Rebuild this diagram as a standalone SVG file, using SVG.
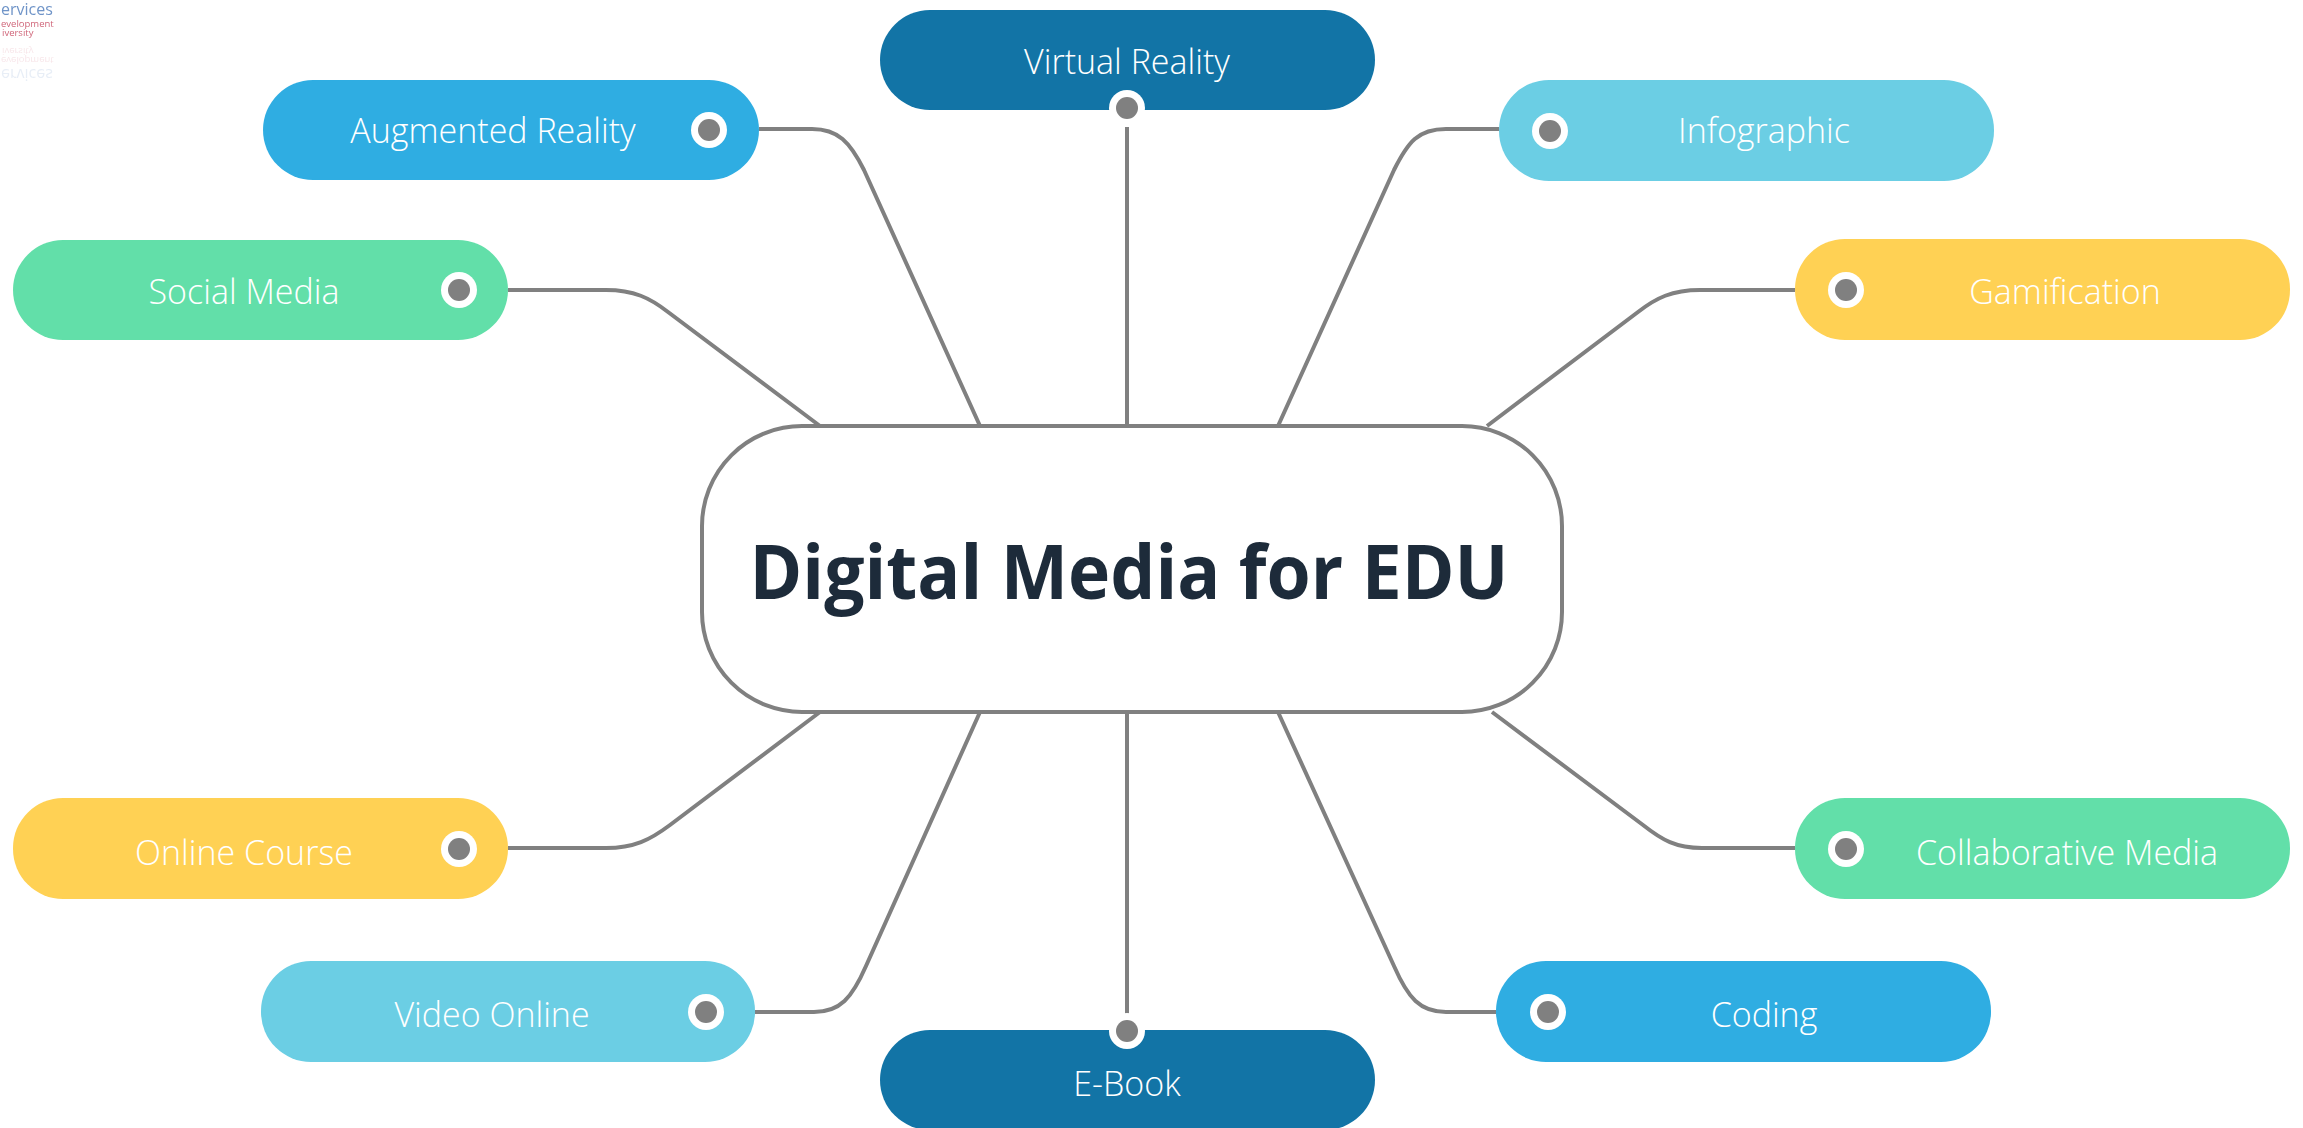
<svg xmlns="http://www.w3.org/2000/svg" width="2303" height="1128" viewBox="0 0 2303 1128">
<defs>
<filter id="soft" x="-10%" y="-10%" width="120%" height="120%"><feGaussianBlur stdDeviation="0.6"/></filter>
</defs>
<style>
.pill{stroke:none}
.navy{fill:#1274a6}.blue{fill:#2fade2}.green{fill:#62dfa9}.yellow{fill:#ffd154}.cyan{fill:#6bcee4}
.lbl{font-family:"Open Sans","Liberation Sans",sans-serif;font-weight:300;font-size:34px;fill:#fff;text-anchor:middle}
.title{font-family:"Open Sans","Liberation Sans",sans-serif;font-weight:700;font-size:76px;fill:#1d2b3a;text-anchor:middle}
.halo{fill:#fff}.dot{fill:#808080}
.conn{fill:none;stroke:#808080;stroke-width:4}
.lg{font-family:"Open Sans","Liberation Sans",sans-serif}
</style>
<g id="logo" filter="url(#soft)">
<text class="lg" x="1" y="15" font-size="16" fill="#6f94c8">ervices</text>
<text class="lg" x="1" y="27" font-size="9.5" fill="#d0667a">evelopment</text>
<text class="lg" x="2" y="36" font-size="9.5" fill="#d0667a">iversity</text>
<g transform="translate(0,84) scale(1,-1)" opacity="0.16">
<text class="lg" x="1" y="15" font-size="16" fill="#6f94c8">ervices</text>
<text class="lg" x="1" y="27" font-size="9.5" fill="#d0667a">evelopment</text>
<text class="lg" x="2" y="36" font-size="9.5" fill="#d0667a">iversity</text>
</g>
</g>
<g id="connectors" class="conn">
<path d="M759 129H812C838 129 850 142 864 170L980 426"/>
<path d="M1127 127V426"/>
<path d="M1499 129H1446C1418 129 1408 142 1394 170L1278 426"/>
<path d="M508 290H606C634 290 650 298 668 312L820 426"/>
<path d="M1795 290H1700C1672 290 1656 298 1638 312L1487 426"/>
<path d="M508 848H606C634 848 650 840 670 825L820 712"/>
<path d="M755 1012H814C840 1012 852 998 866 966L980 712"/>
<path d="M1127 712V1032"/>
<path d="M1278 712L1394 966C1408 998 1420 1012 1446 1012H1496"/>
<path d="M1492 712L1643 825C1662 840 1676 848 1702 848H1795"/>
</g>
<g id="center">
<rect x="702" y="426" width="860" height="286" rx="100" ry="100" fill="#fff" stroke="#808080" stroke-width="4"/>
<text class="title" x="1129" y="599" textLength="759" lengthAdjust="spacingAndGlyphs">Digital Media for EDU</text>
</g>
<g id="virtual-reality">
<rect class="pill navy" x="880" y="10" width="495" height="100" rx="50"/>
<circle class="halo" cx="1127" cy="108" r="18"/><circle class="dot" cx="1127" cy="108" r="11"/>
<text class="lbl" x="1127" y="74">Virtual Reality</text>
</g>
<g id="augmented-reality">
<rect class="pill blue" x="263" y="80" width="496" height="100" rx="50"/>
<circle class="halo" cx="709" cy="130" r="18"/><circle class="dot" cx="709" cy="130" r="11"/>
<text class="lbl" x="493" y="143">Augmented Reality</text>
</g>
<g id="infographic">
<rect class="pill cyan" x="1499" y="80" width="495" height="101" rx="50"/>
<circle class="halo" cx="1550" cy="131" r="18"/><circle class="dot" cx="1550" cy="131" r="11"/>
<text class="lbl" x="1764" y="143">Infographic</text>
</g>
<g id="social-media">
<rect class="pill green" x="13" y="240" width="495" height="100" rx="50"/>
<circle class="halo" cx="459" cy="290" r="18"/><circle class="dot" cx="459" cy="290" r="11"/>
<text class="lbl" x="244" y="304">Social Media</text>
</g>
<g id="gamification">
<rect class="pill yellow" x="1795" y="239" width="495" height="101" rx="50"/>
<circle class="halo" cx="1846" cy="290" r="18"/><circle class="dot" cx="1846" cy="290" r="11"/>
<text class="lbl" x="2065" y="304">Gamification</text>
</g>
<g id="online-course">
<rect class="pill yellow" x="13" y="798" width="495" height="101" rx="50"/>
<circle class="halo" cx="459" cy="849" r="18"/><circle class="dot" cx="459" cy="849" r="11"/>
<text class="lbl" x="244" y="865">Online Course</text>
</g>
<g id="collaborative-media">
<rect class="pill green" x="1795" y="798" width="495" height="101" rx="50"/>
<circle class="halo" cx="1846" cy="849" r="18"/><circle class="dot" cx="1846" cy="849" r="11"/>
<text class="lbl" x="2067" y="865">Collaborative Media</text>
</g>
<g id="video-online">
<rect class="pill cyan" x="261" y="961" width="494" height="101" rx="50"/>
<circle class="halo" cx="706" cy="1012" r="18"/><circle class="dot" cx="706" cy="1012" r="11"/>
<text class="lbl" x="492" y="1027">Video Online</text>
</g>
<g id="coding">
<rect class="pill blue" x="1496" y="961" width="495" height="101" rx="50"/>
<circle class="halo" cx="1548" cy="1012" r="18"/><circle class="dot" cx="1548" cy="1012" r="11"/>
<text class="lbl" x="1764" y="1027">Coding</text>
</g>
<g id="e-book">
<rect class="pill navy" x="880" y="1030" width="495" height="100" rx="50"/>
<circle class="halo" cx="1127" cy="1031" r="18"/><circle class="dot" cx="1127" cy="1031" r="11"/>
<text class="lbl" x="1127" y="1096">E-Book</text>
</g>
</svg>
